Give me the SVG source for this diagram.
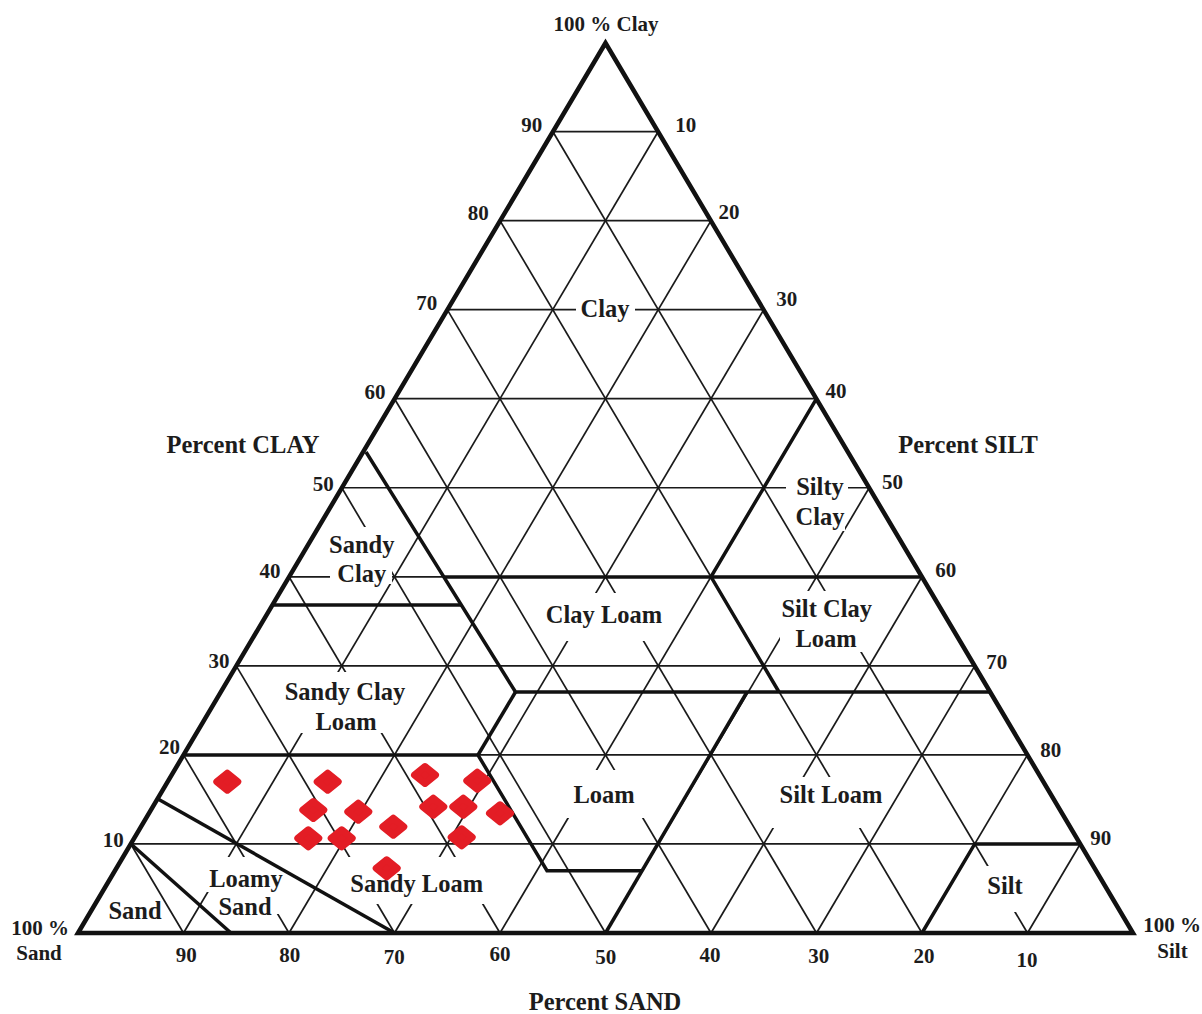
<svg xmlns="http://www.w3.org/2000/svg" width="1202" height="1014" viewBox="0 0 1202 1014">
<style>
.grid line{stroke:#1a1a1a;stroke-width:1.7}
.mask rect{fill:#fff}
.bnd{stroke:#111;stroke-width:3.5;fill:none;stroke-linejoin:miter}
.frame{stroke:#111;stroke-width:4.5;fill:none;stroke-linejoin:miter}
text{font-family:"Liberation Serif","Times New Roman",serif;font-weight:bold;fill:#1c1c1c;text-anchor:middle}
.lbl{font-size:24.5px}
.num{font-size:21px}
.cor{font-size:21px}
.pt{fill:#e31d25;stroke:#e31d25;stroke-width:7;stroke-linejoin:round}
</style>
<defs>
<path id="dm" class="pt" d="M0,-8.5 L10.5,0 L0,8.5 L-10.5,0 Z"/>
</defs>
<rect width="1202" height="1014" fill="#fff"/>
<g id="grid" class="grid">
<line x1="130.75" y1="843.95" x2="1080.25" y2="843.95"/>
<line x1="183.5" y1="754.9" x2="1027.5" y2="754.9"/>
<line x1="236.25" y1="665.85" x2="974.75" y2="665.85"/>
<line x1="289" y1="576.8" x2="922" y2="576.8"/>
<line x1="341.75" y1="487.75" x2="869.25" y2="487.75"/>
<line x1="394.5" y1="398.7" x2="816.5" y2="398.7"/>
<line x1="447.25" y1="309.65" x2="763.75" y2="309.65"/>
<line x1="500" y1="220.6" x2="711" y2="220.6"/>
<line x1="552.75" y1="131.55" x2="658.25" y2="131.55"/>
<line x1="183.5" y1="933" x2="658.25" y2="131.55"/>
<line x1="289" y1="933" x2="711" y2="220.6"/>
<line x1="394.5" y1="933" x2="763.75" y2="309.65"/>
<line x1="500" y1="933" x2="816.5" y2="398.7"/>
<line x1="605.5" y1="933" x2="869.25" y2="487.75"/>
<line x1="711" y1="933" x2="922" y2="576.8"/>
<line x1="816.5" y1="933" x2="974.75" y2="665.85"/>
<line x1="922" y1="933" x2="1027.5" y2="754.9"/>
<line x1="1027.5" y1="933" x2="1080.25" y2="843.95"/>
<line x1="183.5" y1="933" x2="130.75" y2="843.95"/>
<line x1="289" y1="933" x2="183.5" y2="754.9"/>
<line x1="394.5" y1="933" x2="236.25" y2="665.85"/>
<line x1="500" y1="933" x2="289" y2="576.8"/>
<line x1="605.5" y1="933" x2="341.75" y2="487.75"/>
<line x1="711" y1="933" x2="394.5" y2="398.7"/>
<line x1="816.5" y1="933" x2="447.25" y2="309.65"/>
<line x1="922" y1="933" x2="500" y2="220.6"/>
<line x1="1027.5" y1="933" x2="552.75" y2="131.55"/>
</g>
<g id="label-masks" class="mask">
<rect x="576" y="298" width="59" height="24"/>
<rect x="786" y="476" width="62" height="25"/>
<rect x="794" y="505" width="51" height="26"/>
<rect x="326" y="527" width="72" height="30"/>
<rect x="330" y="557" width="62" height="27"/>
<rect x="279" y="672" width="132" height="31"/>
<rect x="300" y="703" width="85" height="30"/>
<rect x="542" y="593" width="126" height="48"/>
<rect x="775" y="591" width="103" height="31"/>
<rect x="780" y="622" width="82" height="30"/>
<rect x="563" y="770" width="85" height="48"/>
<rect x="772" y="777" width="113" height="28"/>
<rect x="772" y="805" width="94" height="23"/>
<rect x="978" y="866" width="54" height="46"/>
<rect x="205" y="857" width="82" height="35"/>
<rect x="214" y="892" width="69" height="22"/>
<rect x="343" y="857" width="147" height="47"/>
</g>
<g id="boundaries" class="bnd">
<polyline points="131,844 231,933"/>
<polyline points="158,799 394.5,933"/>
<polyline points="183.5,755 478,755 547,870.7 642,870.7"/>
<polyline points="478,755 515.5,692"/>
<polyline points="366,452 515.5,692 990.5,692"/>
<polyline points="272.3,605 461,605"/>
<polyline points="443.6,577 922,577"/>
<polyline points="605.5,933 747,692"/>
<polyline points="816.5,398.7 711,576.8 779,692"/>
<polyline points="922,933 974.75,843.95 1080.25,843.95"/>
</g>
<polygon id="frame" class="frame" points="78,933 605.5,43 1133,933"/>
<g id="region-labels" class="lbl">
<text x="605" y="317">Clay</text>
<text x="820" y="495">Silty</text>
<text x="820" y="525">Clay</text>
<text x="361.7" y="553">Sandy</text>
<text x="361.7" y="582">Clay</text>
<text x="826.7" y="617">Silt Clay</text>
<text x="826" y="647">Loam</text>
<text x="604" y="623">Clay Loam</text>
<text x="345" y="700">Sandy Clay</text>
<text x="346" y="730">Loam</text>
<text x="604" y="802.5">Loam</text>
<text x="831" y="803">Silt Loam</text>
<text x="1005" y="894">Silt</text>
<text x="135" y="919">Sand</text>
<text x="246" y="886.5">Loamy</text>
<text x="245" y="915">Sand</text>
<text x="416.7" y="891.5">Sandy Loam</text>
</g>
<g id="axis-titles" class="lbl">
<text x="243" y="453">Percent CLAY</text>
<text x="968" y="453">Percent SILT</text>
<text x="605" y="1010">Percent SAND</text>
</g>
<g id="corners" class="cor">
<text x="606" y="31">100 % Clay</text>
<text x="40" y="935">100 %</text>
<text x="39" y="960">Sand</text>
<text x="1172" y="932">100 %</text>
<text x="1172.5" y="958">Silt</text>
</g>
<g id="clay-scale" class="num">
<text x="531.7" y="131.5">90</text>
<text x="478.3" y="219.7">80</text>
<text x="426.7" y="310.3">70</text>
<text x="375" y="398.7">60</text>
<text x="323.3" y="491">50</text>
<text x="270" y="577.8">40</text>
<text x="219" y="668">30</text>
<text x="169.5" y="754">20</text>
<text x="113.3" y="847">10</text>
</g>
<g id="silt-scale" class="num">
<text x="685.8" y="131.5">10</text>
<text x="729" y="219">20</text>
<text x="786.7" y="306.3">30</text>
<text x="836" y="398">40</text>
<text x="892.5" y="488.7">50</text>
<text x="945.8" y="577">60</text>
<text x="996.7" y="668.7">70</text>
<text x="1050.8" y="757">80</text>
<text x="1100.8" y="845.3">90</text>
</g>
<g id="sand-scale" class="num">
<text x="186.3" y="962">90</text>
<text x="289.7" y="962">80</text>
<text x="394.2" y="963.7">70</text>
<text x="500" y="961">60</text>
<text x="605.8" y="964">50</text>
<text x="710" y="962">40</text>
<text x="818.7" y="962.5">30</text>
<text x="924" y="962.5">20</text>
<text x="1027" y="967">10</text>
</g>
<g id="samples">
<use href="#dm" x="227.3" y="781.7"/>
<use href="#dm" x="327.7" y="781.7"/>
<use href="#dm" x="425" y="775"/>
<use href="#dm" x="477.3" y="780.7"/>
<use href="#dm" x="313.3" y="810"/>
<use href="#dm" x="358.3" y="811.7"/>
<use href="#dm" x="433.3" y="806.7"/>
<use href="#dm" x="463.3" y="806.7"/>
<use href="#dm" x="500" y="813.3"/>
<use href="#dm" x="308.3" y="838.3"/>
<use href="#dm" x="341.7" y="838.3"/>
<use href="#dm" x="393.3" y="826.7"/>
<use href="#dm" x="461.7" y="837.3"/>
<use href="#dm" x="386.7" y="868.3"/>
</g>
</svg>
